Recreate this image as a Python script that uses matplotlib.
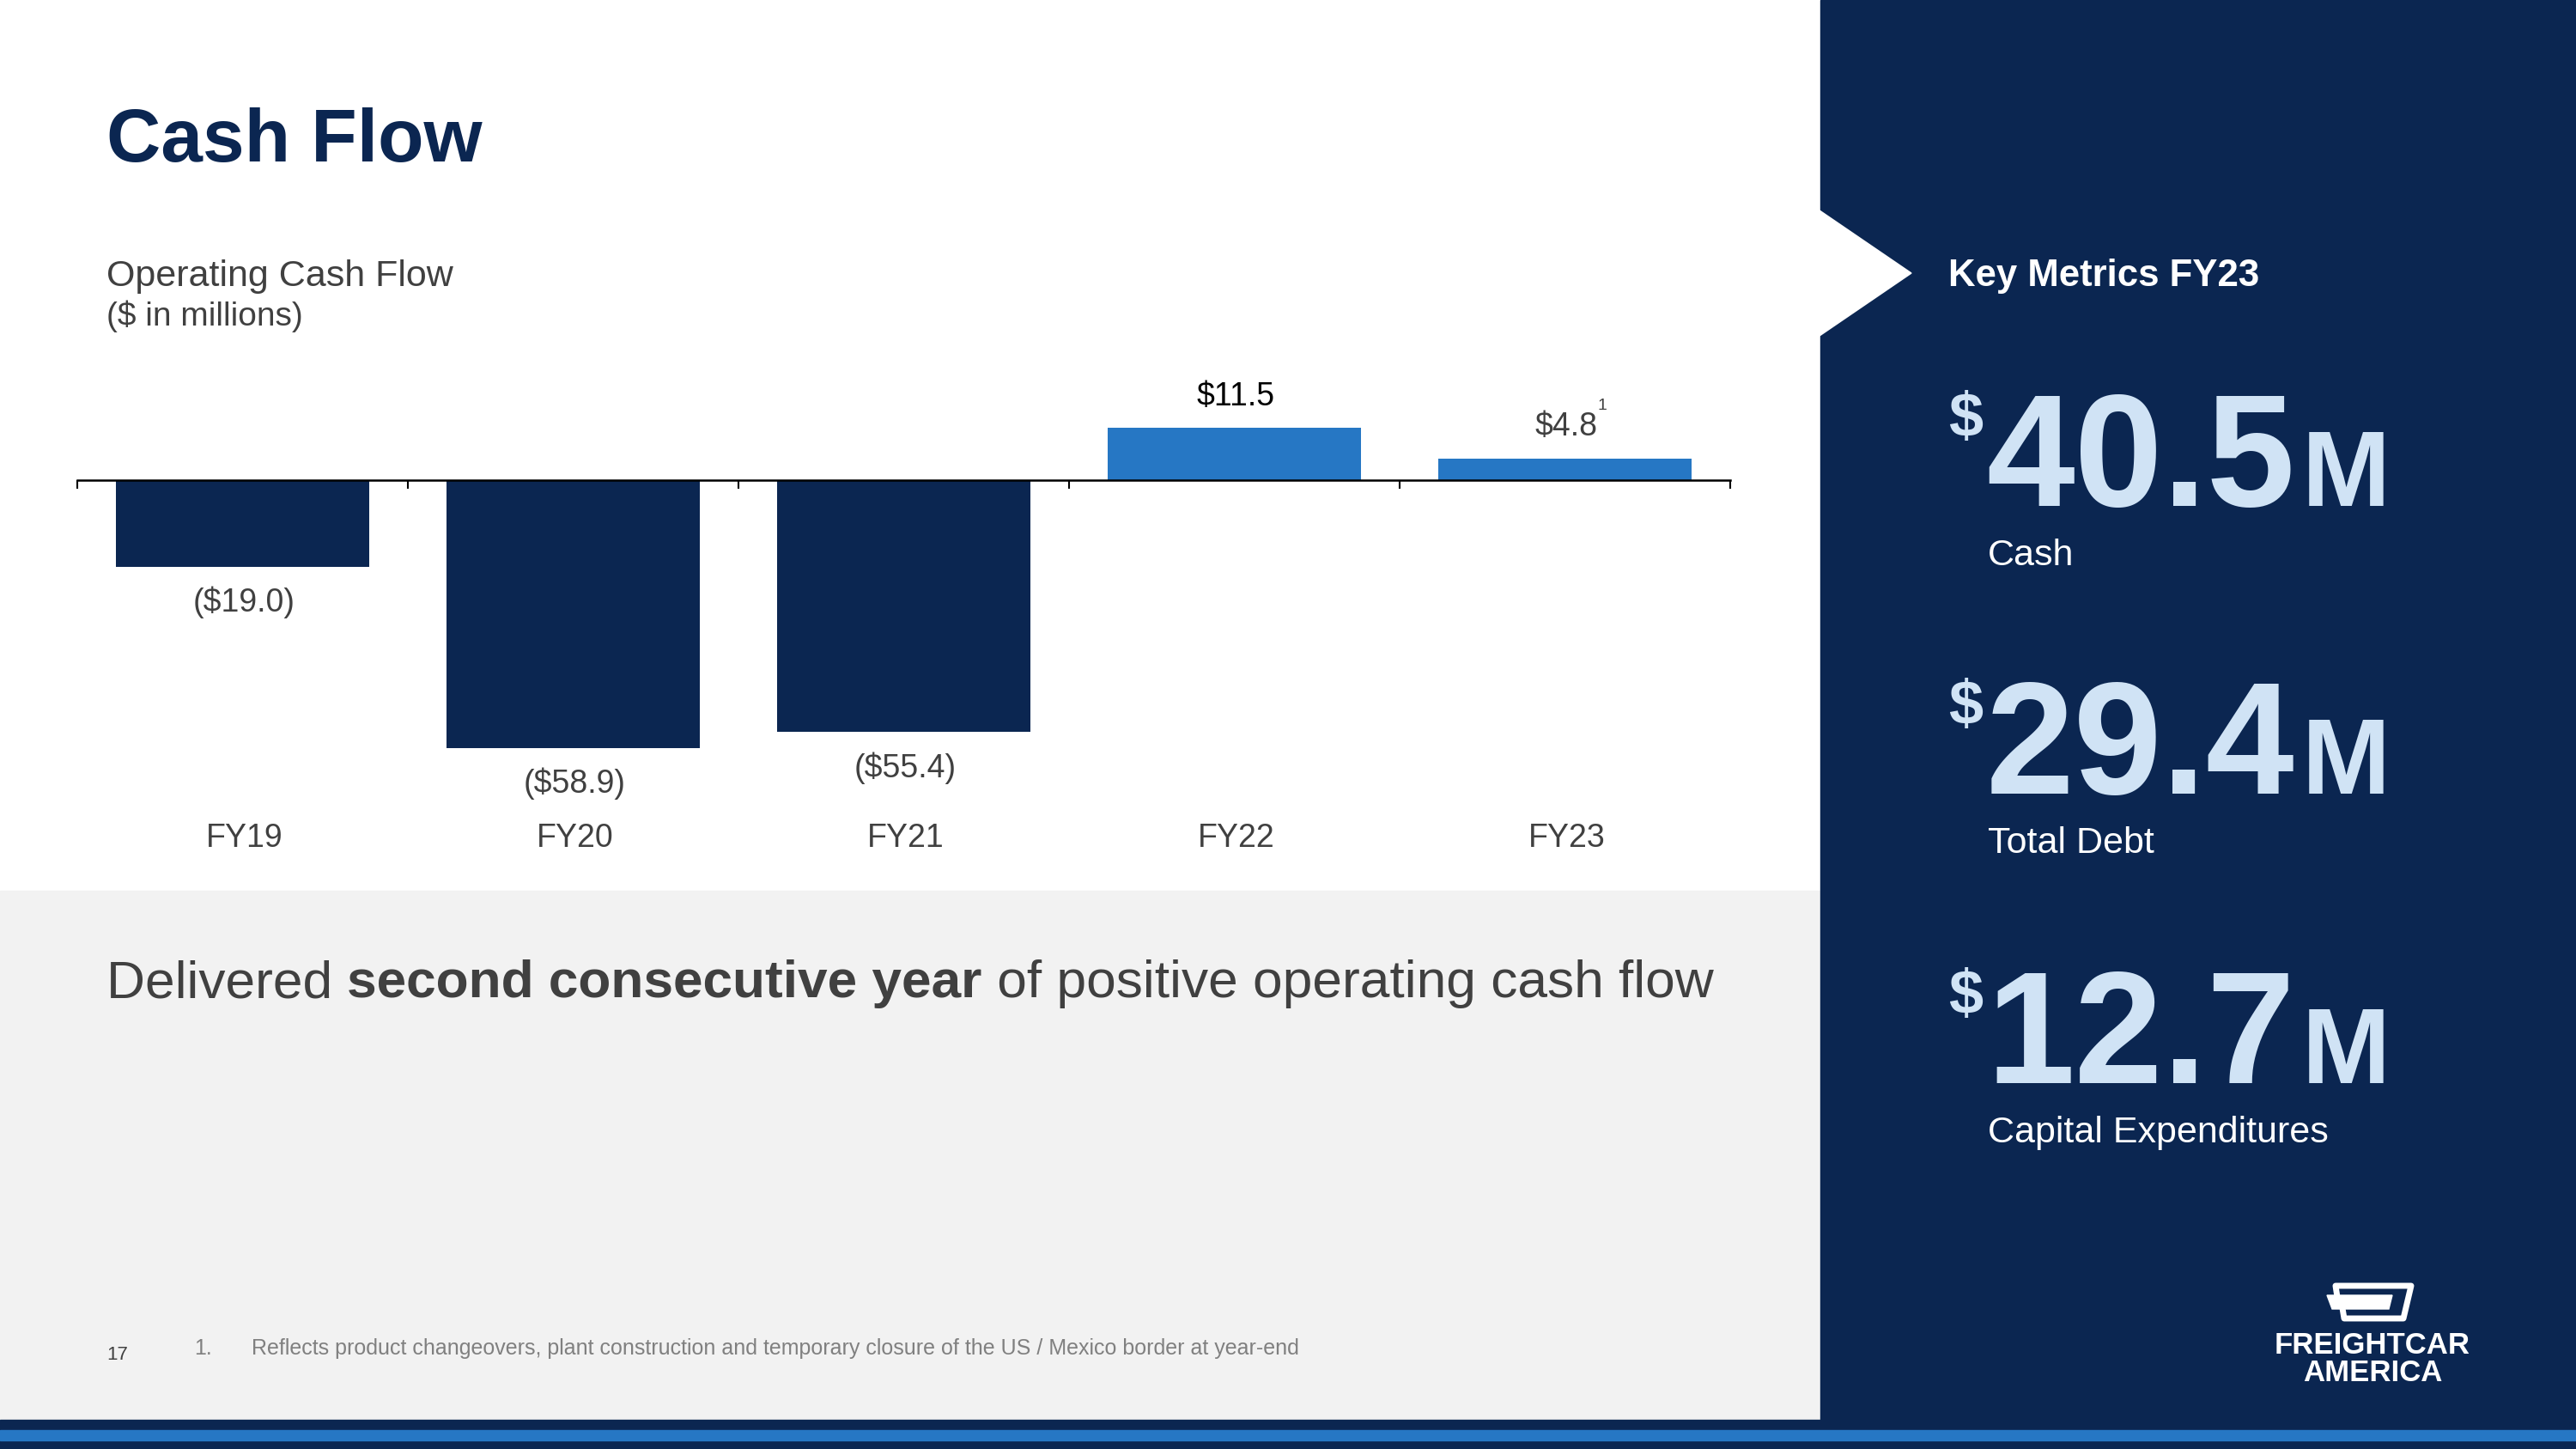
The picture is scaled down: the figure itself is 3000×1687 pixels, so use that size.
import matplotlib
matplotlib.use("Agg")
import matplotlib.pyplot as plt
from matplotlib.patches import Rectangle, Polygon
from matplotlib.lines import Line2D

plt.rcParams['font.family'] = ['Liberation Sans', 'DejaVu Sans']

# --- Donnees ---
years = ["FY19", "FY20", "FY21", "FY22", "FY23"]
cash_flow = [-19.0, -58.9, -55.4, 11.5, 4.8]
bar_labels = ["($19.0)", "($58.9)", "($55.4)", "$11.5", "$4.8"]

metric_values = ["40.5", "29.4", "12.7"]
metric_names = ["Cash", "Total Debt", "Capital Expenditures"]

footnote = "Reflects product changeovers, plant construction and temporary closure of the US / Mexico border at year-end"

# --- Couleurs ---
NAVY = "#0B2651"
BLUE = "#2677C4"
LIGHT = "#D0E3F5"
GRAY_BG = "#F2F2F2"
TXT = "#404040"

W, H = 3000, 1687
fig = plt.figure(figsize=(30, 16.87), dpi=100)

# --- Fond en coordonnees pixels ---
bg = fig.add_axes([0, 0, 1, 1])
bg.set_xlim(0, W)
bg.set_ylim(H, 0)
bg.axis("off")

bg.add_patch(Rectangle((0, 0), W, H, color="white", zorder=0))
bg.add_patch(Rectangle((0, 1037), 2120, 616, color=GRAY_BG, zorder=1))
bg.add_patch(Rectangle((2120, 0), 880, 1653, color=NAVY, zorder=1))
bg.add_patch(Polygon([(2119, 245), (2226, 318), (2119, 391)], closed=True, color="white", zorder=2))
bg.add_patch(Rectangle((0, 1653), W, 34, color=NAVY, zorder=1))
bg.add_patch(Rectangle((0, 1665), W, 12, color=BLUE, zorder=2))

# titres
bg.text(124, 188, "Cash Flow", fontsize=63, fontweight="bold", color=NAVY, va="baseline")
bg.text(124, 333, "Operating Cash Flow", fontsize=31, color=TXT, va="baseline")
bg.text(124, 379, "($ in millions)", fontsize=28, color=TXT, va="baseline")

# phrase avec partie en gras
fig.canvas.draw()
renderer = fig.canvas.get_renderer()
x = 124
for part, weight in [("Delivered ", "normal"), ("second consecutive year", "bold"),
                     (" of positive operating cash flow", "normal")]:
    t = bg.text(x, 1161, part, fontsize=44.8, fontweight=weight, color=TXT, va="baseline")
    bb = t.get_window_extent(renderer=renderer)
    x += bb.width

# notes de bas de page
bg.text(124, 1583, "17", fontsize=16, color=TXT, va="baseline")
bg.text(226, 1577, "1.", fontsize=18, color="#808080", va="baseline")
bg.text(293, 1577, footnote, fontsize=18, color="#808080", va="baseline")

# --- Panneau de droite ---
bg.text(2269, 333, "Key Metrics FY23", fontsize=31.5, fontweight="bold", color="white", va="baseline")

baselines = [589, 924, 1261]
for val, name, yb in zip(metric_values, metric_names, baselines):
    bg.text(2269, yb - 81, "$", fontsize=52, fontweight="bold", color=LIGHT, va="baseline")
    t = bg.text(2313, yb, val, fontsize=133, fontweight="bold", color=LIGHT, va="baseline")
    bb = t.get_window_extent(renderer=renderer)
    bg.text(2313 + bb.width + 8, yb, "M", fontsize=89, fontweight="bold", color=LIGHT, va="baseline")
    bg.text(2315, yb + 58, name, fontsize=31, color="white", va="center")

# logo
bg.add_line(Line2D([2722, 2720, 2808, 2799, 2730, 2728],
                   [1510, 1497, 1497, 1535, 1535, 1523], color="white", lw=5, zorder=3))
bg.add_patch(Polygon([(2710, 1508), (2786, 1508), (2782, 1524), (2716, 1524)],
                     closed=True, color="white", zorder=3))
bg.text(2763, 1566, "FREIGHTCAR", fontsize=25, fontweight="bold", color="white", ha="center", va="center")
bg.text(2763, 1598, "AMERICA", fontsize=25, fontweight="bold", color="white", ha="center", va="center")

# --- Graphique ---
ax = fig.add_axes([0.03, 0.41761, 0.64167, 0.37658])
ax.set_xlim(-0.5, 4.5)
ax.set_ylim(-80, 40)
ax.patch.set_alpha(0)

colors = [NAVY if v < 0 else BLUE for v in cash_flow]
ax.bar(range(len(years)), cash_flow, width=0.765, color=colors, zorder=2)

for i, (v, lab) in enumerate(zip(cash_flow, bar_labels)):
    off = 26 if v > 0 else -30
    col = "black" if i == 3 else TXT
    ax.annotate(lab, xy=(i, v), xytext=(1, off), textcoords="offset points",
                ha="center", va="center", fontsize=27, color=col)
    ax.text(i + 0.005, -78.8, years[i], ha="center", va="center", fontsize=27, color=TXT)

# appel de note sur FY23
ax.annotate("1", xy=(4, cash_flow[4]), xytext=(31, 44), textcoords="offset points",
            ha="center", va="center", fontsize=14, color=TXT)

for s in ["top", "left", "right"]:
    ax.spines[s].set_visible(False)
ax.spines["bottom"].set_position(("data", 0))
ax.spines["bottom"].set_linewidth(1.8)
ax.spines["bottom"].set_zorder(3)
ax.set_xticks([-0.5, 0.5, 1.5, 2.5, 3.5, 4.5])
ax.set_xticklabels([])
ax.tick_params(axis="x", direction="out", length=7, width=1.5)
ax.set_yticks([])

plt.savefig("out.png", dpi=100)
